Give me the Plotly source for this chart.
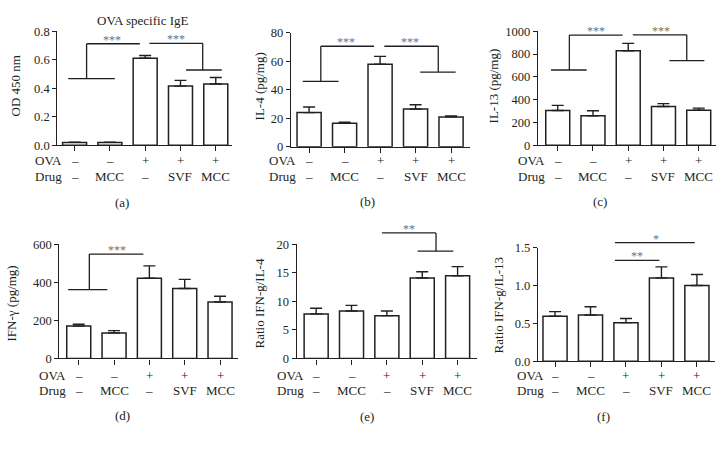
import plotly.graph_objects as go

# ---------------- data ----------------
groups = ["Control", "MCC", "OVA", "OVA+SVF", "OVA+MCC"]
ova_row = ["–", "–", "+", "+", "+"]
drug_row = ["–", "MCC", "–", "SVF", "MCC"]

ige_mean = [0.02, 0.02, 0.61, 0.415, 0.43]
ige_sem = [0.002, 0.002, 0.02, 0.04, 0.045]
il4_mean = [24, 16.5, 58, 26.5, 21]
il4_sem = [4, 0.7, 5.5, 3, 0.7]
il13_mean = [305, 258, 828, 340, 308]
il13_sem = [45, 45, 65, 25, 18]
ifng_mean = [170, 134, 422, 368, 297]
ifng_sem = [10, 12, 65, 48, 30]
ratio4_mean = [7.8, 8.3, 7.5, 14.1, 14.5]
ratio4_sem = [1.0, 1.0, 0.8, 1.1, 1.6]
ratio13_mean = [0.595, 0.61, 0.51, 1.10, 1.0]
ratio13_sem = [0.06, 0.11, 0.055, 0.145, 0.145]

# ---------------- styling / layout ----------------
W, H = 725, 449
FONT = "Liberation Serif"
INK = "#231f20"
STAR = "#707070"
TICKF = dict(family=FONT, size=12.5, color=INK)
TXT = dict(family=FONT, size=13, color=INK)

panels = [
    dict(tag="(a)", mean=ige_mean, err=ige_sem, ymax=0.8,
         ticks=[0, 0.2, 0.4, 0.6, 0.8], fmt="{:.1f}", ylabel="OD 450 nm",
         px_x=(57.3, 232), px_y=(25, 142.7), xr=(-0.49, 4.46),
         ylab=(15, 82), rows=(33, 158, 175), tagpos=(122, 202),
         segs=[(-0.18, 1.14, 0.467, 0.467), (0.34, 0.34, 0.467, 0.712), (0.34, 1.85, 0.712, 0.712),
               (2.12, 3.63, 0.715, 0.715), (3.63, 3.63, 0.715, 0.528), (3.16, 4.17, 0.528, 0.528)],
         stars=[(1.06, 0.712, "***"), (2.87, 0.715, "***")]),
    dict(tag="(b)", mean=il4_mean, err=il4_sem, ymax=80,
         ticks=[0, 20, 40, 60, 80], fmt="{:.0f}", ylabel="IL-4 (pg/mg)",
         px_x=(291, 469.5), px_y=(26.7, 144.3), xr=(-0.51, 4.52),
         ylab=(259, 82), rows=(267, 158, 175), tagpos=(367, 201),
         segs=[(-0.18, 0.83, 46, 46), (0.33, 0.33, 46, 70.6), (0.33, 1.83, 70.6, 70.6),
               (2.12, 3.64, 70.6, 70.6), (3.64, 3.64, 70.6, 52.4), (3.13, 4.13, 52.4, 52.4)],
         stars=[(1.04, 70.6, "***"), (2.85, 70.6, "***")]),
    dict(tag="(c)", mean=il13_mean, err=il13_sem, ymax=1000,
         ticks=[0, 200, 400, 600, 800, 1000], fmt="{:.0f}", ylabel="IL-13 (pg/mg)",
         px_x=(538, 716), px_y=(25, 142.7), xr=(-0.56, 4.49),
         ylab=(493, 82), rows=(516, 158, 175), tagpos=(600, 201),
         segs=[(-0.19, 0.82, 660, 660), (0.33, 0.33, 660, 966), (0.33, 1.84, 966, 966),
               (2.13, 3.66, 968, 968), (3.66, 3.66, 968, 742), (3.17, 4.16, 742, 742)],
         stars=[(1.09, 966, "***"), (2.92, 968, "***")]),
    dict(tag="(d)", mean=ifng_mean, err=ifng_sem, ymax=600,
         ticks=[0, 200, 400, 600], fmt="{:.0f}", ylabel="IFN-γ (pg/mg)",
         px_x=(59.3, 237.7), px_y=(245, 362.7), xr=(-0.55, 4.5),
         ylab=(11, 306), rows=(37, 380, 396), tagpos=(122, 422),
         segs=[(-0.3, 0.81, 362, 362), (0.30, 0.30, 362, 549), (0.30, 1.83, 549, 549)],
         stars=[(1.08, 549, "***")]),
    dict(tag="(e)", mean=ratio4_mean, err=ratio4_sem, ymax=20,
         ticks=[0, 5, 10, 15, 20], fmt="{:.0f}", ylabel="Ratio IFN-g/IL-4",
         px_x=(296.7, 476.7), px_y=(245, 362.7), xr=(-0.55, 4.54),
         ylab=(259, 306), rows=(275, 380, 396), tagpos=(367, 423),
         segs=[(1.86, 3.39, 22.0, 22.0), (3.39, 3.39, 22.0, 18.8), (2.87, 3.88, 18.8, 18.8)],
         stars=[(2.63, 22.0, "**")]),
    dict(tag="(f)", mean=ratio13_mean, err=ratio13_sem, ymax=1.5,
         ticks=[0, 0.5, 1.0, 1.5], fmt="{:.1f}", ylabel="Ratio IFN-g/IL-13",
         px_x=(538, 715), px_y=(248.3, 365.7), xr=(-0.48, 4.51),
         ylab=(498, 308), rows=(515, 380, 396), tagpos=(603, 423),
         segs=[(1.69, 3.94, 1.564, 1.564), (1.69, 2.94, 1.33, 1.33)],
         stars=[(2.86, 1.564, "*"), (2.31, 1.33, "**")]),
]

fig = go.Figure()
layout = dict(
    width=W, height=H, margin=dict(l=0, r=0, t=0, b=0),
    paper_bgcolor="white", plot_bgcolor="white", showlegend=False,
    font=TXT,
)
shapes, annos = [], []


def px2paper_x(px):
    return px / W


def px2paper_y(py):
    return 1 - py / H


for i, p in enumerate(panels):
    n = i + 1
    sfx = "" if n == 1 else str(n)
    xa, ya = "x" + sfx, "y" + sfx
    xd = [px2paper_x(p["px_x"][0]), px2paper_x(p["px_x"][1])]
    yd = [px2paper_y(p["px_y"][1]), px2paper_y(p["px_y"][0])]

    fig.add_trace(go.Bar(
        x=groups, y=p["mean"], xaxis=xa, yaxis=ya, width=0.68,
        marker=dict(color="white", line=dict(color=INK, width=1.5)),
        error_y=dict(type="data", symmetric=False, array=p["err"],
                     arrayminus=[0] * len(p["err"]), color=INK, thickness=1.4, width=6),
        hoverinfo="skip",
    ))

    layout["xaxis" + sfx] = dict(
        domain=xd, anchor=ya, type="category", categoryorder="array", categoryarray=groups,
        range=list(p["xr"]), showline=True, linecolor=INK, linewidth=1.3,
        ticks="outside", ticklen=5, tickwidth=1.2, tickcolor=INK,
        showticklabels=False, showgrid=False, zeroline=False, fixedrange=True,
    )
    layout["yaxis" + sfx] = dict(
        domain=yd, anchor=xa, range=[0, p["ymax"]],
        tickvals=p["ticks"], ticktext=[p["fmt"].format(v) for v in p["ticks"]],
        showline=True, linecolor=INK, linewidth=1.3,
        ticks="outside", ticklen=4, tickwidth=1.2, tickcolor=INK,
        tickfont=TICKF, showgrid=False, zeroline=False, fixedrange=True,
    )

    def ypap(v, p=p, yd=yd):
        return yd[0] + v / p["ymax"] * (yd[1] - yd[0])

    for (x0, x1, y0, y1) in p["segs"]:
        shapes.append(dict(type="line", xref=xa, yref="paper",
                           x0=x0, x1=x1, y0=ypap(y0), y1=ypap(y1),
                           line=dict(color=INK, width=1.3)))
    for (sx, sy, txt) in p["stars"]:
        annos.append(dict(xref=xa, yref="paper", x=sx, y=ypap(sy), text=txt,
                          showarrow=False, xanchor="center", yanchor="middle", yshift=4,
                          font=dict(family=FONT, size=12, color=STAR)))

    # y-axis label
    annos.append(dict(xref="paper", yref="paper", x=px2paper_x(p["ylab"][0]),
                      y=px2paper_y(p["ylab"][1]), text=p["ylabel"], textangle=-90,
                      showarrow=False, xanchor="center", yanchor="middle", font=TXT))
    # treatment rows
    lx, y_ova, y_drug = p["rows"]
    annos.append(dict(xref="paper", yref="paper", x=px2paper_x(lx), y=px2paper_y(y_ova),
                      text="OVA", showarrow=False, xanchor="left", yanchor="middle", font=TXT))
    annos.append(dict(xref="paper", yref="paper", x=px2paper_x(lx), y=px2paper_y(y_drug),
                      text="Drug", showarrow=False, xanchor="left", yanchor="middle", font=TXT))
    for g, o, d in zip(groups, ova_row, drug_row):
        annos.append(dict(xref=xa, yref="paper", x=g, y=px2paper_y(y_ova), text=o,
                          showarrow=False, xanchor="center", yanchor="middle", font=TXT))
        annos.append(dict(xref=xa, yref="paper", x=g, y=px2paper_y(y_drug), text=d,
                          showarrow=False, xanchor="center", yanchor="middle", font=TXT))
    # panel tag
    annos.append(dict(xref="paper", yref="paper", x=px2paper_x(p["tagpos"][0]),
                      y=px2paper_y(p["tagpos"][1]), text=p["tag"], showarrow=False,
                      xanchor="center", yanchor="middle", font=TXT))

# title of panel (a)
annos.append(dict(xref="paper", yref="paper", x=px2paper_x(143), y=px2paper_y(14),
                  text="OVA specific IgE", showarrow=False, xanchor="center", yanchor="middle",
                  font=TXT))

layout["shapes"] = shapes
layout["annotations"] = annos
fig.update_layout(**layout)
fig.write_html("out.html", config={"displayModeBar": False},
               post_script="document.body.style.margin='0';")
